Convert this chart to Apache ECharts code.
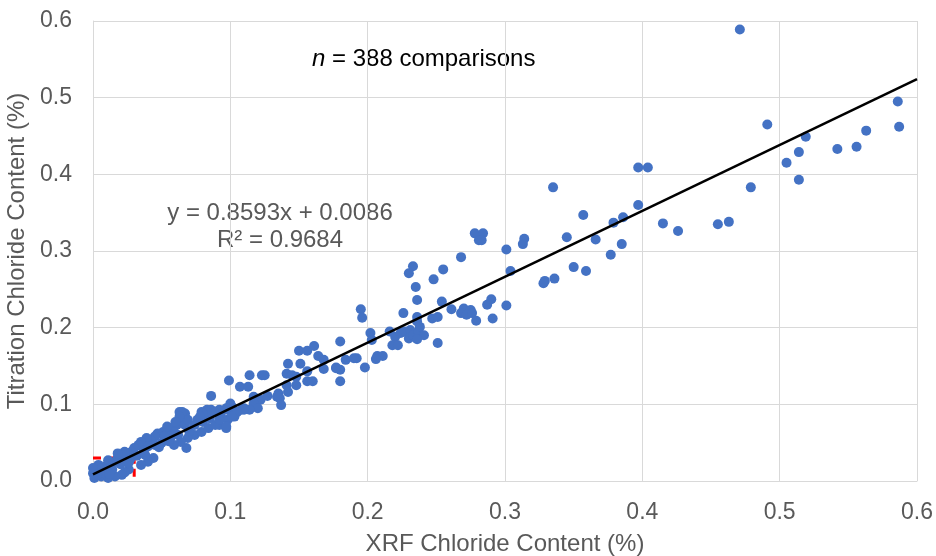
<!DOCTYPE html>
<html>
<head>
<meta charset="utf-8">
<script src="https://cdn.jsdelivr.net/npm/echarts@6/dist/echarts.min.js"></script>
<style>
  html, body { margin: 0; padding: 0; background: #fff; }
  #chart { width: 936px; height: 556px; }
</style>
</head>
<body>
<div id="chart"></div>
<script>
// points, [XRF %, titration %]
var highBand = [
  [0.471,0.589],[0.491,0.465],[0.586,0.495],[0.587,0.462],[0.563,0.457],[0.556,0.436],
  [0.542,0.433],[0.519,0.449],[0.514,0.429],[0.505,0.415],[0.514,0.393],[0.479,0.383],
  [0.463,0.338],[0.455,0.335],[0.426,0.326],[0.415,0.336],[0.397,0.409],[0.404,0.409],
  [0.397,0.360],[0.386,0.344],[0.379,0.337],[0.385,0.309],[0.366,0.315],[0.357,0.347],
  [0.345,0.318],[0.335,0.383],[0.314,0.316],[0.313,0.309],[0.301,0.302],[0.377,0.295],
  [0.359,0.274],[0.350,0.279],[0.336,0.264],[0.329,0.261],[0.328,0.258],[0.304,0.274],
  [0.301,0.229]
];
var midBand = [
  [0.278,0.323],[0.284,0.323],[0.281,0.314],[0.283,0.314],[0.268,0.292],[0.233,0.280],
  [0.230,0.271],[0.255,0.276],[0.248,0.263],[0.235,0.253],[0.236,0.236],[0.254,0.234],
  [0.261,0.224],[0.270,0.225],[0.275,0.223],[0.268,0.219],[0.272,0.217],[0.276,0.219],
  [0.279,0.209],[0.287,0.230],[0.290,0.237],[0.291,0.212],[0.195,0.224],[0.196,0.213],
  [0.226,0.219],[0.236,0.214],[0.236,0.208],[0.247,0.212],[0.251,0.214],[0.202,0.193],
  [0.180,0.182],[0.216,0.195],[0.220,0.188],[0.224,0.193],[0.227,0.195],[0.231,0.197],
  [0.230,0.186],[0.233,0.190],[0.237,0.195],[0.238,0.201],[0.241,0.190],[0.236,0.185],
  [0.218,0.177],[0.222,0.177],[0.251,0.180],[0.203,0.184],[0.207,0.163],[0.211,0.163],
  [0.206,0.159],[0.192,0.160],[0.184,0.158],[0.177,0.148],[0.198,0.148],[0.190,0.160]
];
var lowerMid = [
  [0.150,0.170],[0.156,0.170],[0.161,0.176],[0.164,0.163],[0.168,0.158],[0.142,0.153],
  [0.151,0.153],[0.156,0.143],[0.141,0.140],[0.145,0.138],[0.148,0.136],[0.168,0.146],
  [0.177,0.147],[0.180,0.145],[0.180,0.130],[0.156,0.130],[0.160,0.130],[0.148,0.125],
  [0.141,0.125],[0.142,0.116],[0.135,0.114],[0.136,0.108],[0.137,0.099],[0.123,0.138],
  [0.125,0.138],[0.114,0.138],[0.107,0.123],[0.113,0.123],[0.099,0.131],[0.086,0.111],
  [0.117,0.110],[0.122,0.106],[0.127,0.111],[0.117,0.101],[0.120,0.095],[0.114,0.093],
  [0.110,0.093],[0.134,0.110],[0.100,0.101],[0.097,0.095],[0.092,0.093],[0.088,0.090],
  [0.083,0.090],[0.080,0.088],[0.078,0.084],[0.065,0.090],[0.063,0.084],[0.060,0.077],
  [0.054,0.071],[0.092,0.080],[0.097,0.071],[0.105,0.090],[0.101,0.084]
];
var lowBand = [
  [0.067,0.088],[0.063,0.090],[0.063,0.080],[0.061,0.073],[0.067,0.073],[0.069,0.080],
  [0.079,0.090],[0.083,0.093],[0.086,0.093],[0.090,0.090],[0.081,0.084],[0.076,0.080],
  [0.074,0.073],[0.080,0.077],[0.085,0.082],[0.093,0.086],[0.098,0.093],[0.101,0.097],
  [0.104,0.090],[0.108,0.093],[0.110,0.095],[0.103,0.084],[0.098,0.080],[0.092,0.073],
  [0.097,0.069],[0.055,0.069],[0.051,0.064],[0.047,0.062],[0.059,0.064],[0.057,0.058],
  [0.052,0.058],[0.045,0.058],[0.042,0.053],[0.039,0.056],[0.035,0.051],[0.033,0.047],
  [0.030,0.043],[0.028,0.038],[0.025,0.036],[0.023,0.034],[0.021,0.032],[0.018,0.030],
  [0.016,0.025],[0.013,0.023],[0.011,0.021],[0.009,0.019],[0.006,0.017],[0.004,0.014],
  [0.001,0.012],[0.000,0.010],[0.068,0.043],[0.044,0.030],[0.040,0.025],[0.035,0.021],
  [0.026,0.015],[0.023,0.011],[0.021,0.008],[0.016,0.006],[0.011,0.004],[0.006,0.006],
  [0.001,0.004],[0.045,0.047],[0.040,0.045],[0.023,0.038],[0.018,0.036],[0.011,0.027],
  [0.004,0.021],[0.000,0.017],[0.074,0.060],[0.069,0.056],[0.064,0.051],[0.059,0.047],
  [0.079,0.064],[0.084,0.069],[0.089,0.073],[0.050,0.050],[0.055,0.052],[0.048,0.044],
  [0.062,0.060],[0.070,0.065],[0.037,0.040],[0.032,0.033],[0.027,0.028],[0.020,0.022],
  [0.014,0.015],[0.008,0.010],[0.003,0.008],[0.012,0.009],[0.026,0.024],[0.038,0.034]
];
// linear trend y = 0.8593x + 0.0086, end points
var trendLine = [[0.0, 0.0086], [0.6, 0.5242]];
// red dashed box round the origin
var boxLine = [[0, 0.03], [0.03, 0.03], [0.03, 0]];

var allPoints = lowBand.concat(lowerMid, midBand, highBand);

var chart = echarts.init(document.getElementById("chart"));
var font = "Liberation Sans, Arial, sans-serif";

var option = {
  animation: false,
  grid: {
    left: 93, right: 19, top: 21, bottom: 75,
    containLabel: false,
    outerBoundsMode: "none"
  },
  xAxis: {
    type: "value",
    min: 0,
    max: 0.6,
    interval: 0.1,
    name: "XRF Chloride Content (%)",
    nameLocation: "middle",
    nameGap: 51,
    nameTextStyle: { color: "#595959", fontSize: 24, fontFamily: font },
    axisLine: { show: true, lineStyle: { color: "#d9d9d9", width: 1 } },
    axisTick: { show: false },
    axisLabel: {
      color: "#595959",
      fontSize: 23,
      fontFamily: font,
      margin: 20,
      formatter: function (v) { return v.toFixed(1); }
    },
    splitLine: { lineStyle: { color: "#d9d9d9", width: 1 } }
  },
  yAxis: {
    type: "value",
    min: 0,
    max: 0.6,
    interval: 0.1,
    name: "Titration Chloride Content (%)",
    nameLocation: "middle",
    nameGap: 56,
    nameTextStyle: { color: "#595959", fontSize: 24, fontFamily: font },
    axisLine: { show: true, lineStyle: { color: "#d9d9d9", width: 1 } },
    axisTick: { show: false },
    axisLabel: {
      color: "#595959",
      fontSize: 23,
      fontFamily: font,
      margin: 21,
      formatter: function (v) { return v.toFixed(1); }
    },
    splitLine: { lineStyle: { color: "#d9d9d9", width: 1 } }
  },
  series: [
    {
      type: "line",
      data: boxLine,
      symbol: "none",
      lineStyle: { color: "#FF0000", width: 3, type: [8, 5] },
      z: 1
    },
    {
      type: "scatter",
      data: allPoints,
      symbolSize: 10,
      itemStyle: { color: "#4472C4", opacity: 1 },
      z: 2
    },
    {
      type: "line",
      data: trendLine,
      symbol: "none",
      lineStyle: { color: "#000000", width: 2.5 },
      z: 4
    }
  ],
  graphic: [
    {
      type: "text",
      left: 312,
      top: 47,
      style: {
        rich: {
          i: { fontStyle: "italic", fontSize: 24, fontFamily: font, fill: "#000" },
          t: { fontSize: 24, fontFamily: font, fill: "#000" }
        },
        text: "{i|n}{t| = 388 comparisons}"
      }
    },
    {
      type: "text",
      x: 280,
      y: 200,
      style: {
        text: "y = 0.8593x + 0.0086\nR\u00b2 = 0.9684",
        align: "center",
        fontSize: 24,
        lineHeight: 27,
        fontFamily: font,
        fill: "#595959"
      }
    }
  ]
};
chart.setOption(option);
</script>
</body>
</html>
